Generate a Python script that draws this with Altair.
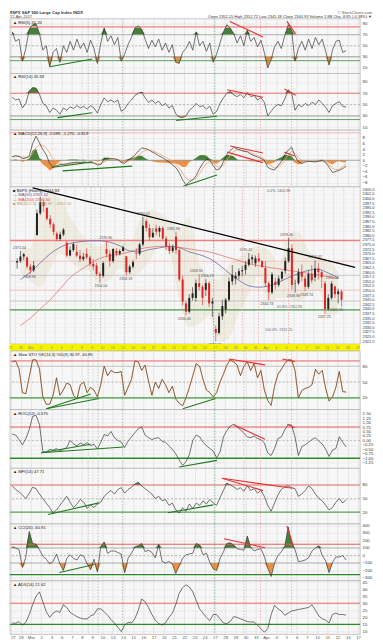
import altair as alt
import pandas as pd

FONT = "Liberation Sans"
DAY_LABELS = ["27", "28", "Mar", "2", "3", "6", "7", "8", "9", "10", "13", "14", "15", "16", "17",
              "20", "21", "22", "23", "24", "27", "28", "29", "30", "31", "Apr", "4", "5", "6", "7",
              "10", "11", "12", "13", "17"]

# ---- hourly-ish price bars (3 per trading day, Feb 27 .. Apr 12 2017) ----
OPEN = [2365.2, 2366.0, 2368.5, 2368.0, 2363.0, 2361.0, 2380.1, 2392.0, 2398.0,
        2395.0, 2389.0, 2386.0, 2381.0, 2378.0, 2380.5, 2376.0, 2369.0, 2372.0,
        2371.0, 2369.0, 2367.0, 2370.0, 2368.0, 2364.5, 2363.5, 2359.0, 2358.0,
        2372.5, 2370.0, 2366.0, 2371.6, 2370.0, 2371.5, 2368.6, 2360.0, 2363.0,
        2370.3, 2370.0, 2375.0, 2387.7, 2384.0, 2379.0, 2383.7, 2382.0, 2384.0,
        2378.2, 2374.0, 2371.5, 2379.3, 2372.0, 2356.0, 2343.0, 2338.5, 2346.0,
        2346.0, 2354.0, 2352.0, 2350.4, 2354.0, 2343.0, 2329.1, 2327.0, 2336.0,
        2339.8, 2345.0, 2355.0, 2356.5, 2358.0, 2360.5, 2361.3, 2364.0, 2367.0,
        2364.8, 2367.5, 2366.0, 2362.3, 2354.0, 2349.0, 2354.8, 2353.0, 2356.5,
        2360.8, 2366.0, 2373.0, 2353.8, 2354.0, 2360.0, 2356.6, 2352.0, 2359.0,
        2357.2, 2362.0, 2360.0, 2353.9, 2340.0, 2346.0, 2352.2, 2348.0, 2349.5]
HIGH = [2367.5, 2371.5, 2370.5, 2368.5, 2364.5, 2366.0, 2394.0, 2401.0, 2399.0,
        2395.0, 2391.0, 2387.0, 2382.0, 2382.0, 2384.0, 2377.0, 2374.0, 2376.0,
        2375.0, 2372.0, 2370.5, 2373.0, 2369.0, 2367.0, 2365.0, 2360.0, 2366.0,
        2376.9, 2372.0, 2373.0, 2373.0, 2372.5, 2374.4, 2368.6, 2364.0, 2366.5,
        2373.0, 2376.0, 2390.0, 2389.0, 2386.0, 2384.0, 2385.7, 2385.0, 2385.0,
        2379.6, 2376.0, 2375.0, 2381.9, 2373.0, 2358.0, 2344.0, 2348.0, 2351.8,
        2356.0, 2358.9, 2353.0, 2356.2, 2355.0, 2346.0, 2331.0, 2338.0, 2344.9,
        2346.0, 2357.0, 2363.8, 2360.0, 2362.0, 2363.4, 2366.0, 2370.4, 2369.5,
        2369.0, 2370.4, 2366.5, 2365.9, 2355.0, 2360.0, 2357.0, 2358.0, 2360.5,
        2368.0, 2378.4, 2375.0, 2356.0, 2362.0, 2364.2, 2358.0, 2361.0, 2363.8,
        2366.4, 2365.0, 2361.0, 2355.2, 2348.0, 2355.0, 2352.7, 2351.0, 2350.5]
LOW = [2361.9, 2365.0, 2366.5, 2362.0, 2359.0, 2360.0, 2380.1, 2391.0, 2393.0,
       2388.0, 2384.0, 2380.0, 2377.0, 2377.0, 2379.5, 2368.0, 2368.5, 2371.0,
       2368.0, 2365.5, 2366.0, 2367.0, 2363.0, 2361.0, 2358.0, 2354.5, 2357.0,
       2368.0, 2363.0, 2365.0, 2368.5, 2369.0, 2371.0, 2358.2, 2359.0, 2362.0,
       2367.0, 2369.0, 2374.0, 2382.0, 2377.2, 2378.5, 2380.0, 2379.0, 2377.6,
       2372.0, 2369.7, 2370.5, 2370.0, 2355.0, 2341.9, 2336.5, 2337.5, 2344.5,
       2344.0, 2350.0, 2342.1, 2347.0, 2341.0, 2335.7, 2322.25, 2326.0, 2334.0,
       2337.6, 2344.0, 2353.0, 2353.3, 2356.0, 2358.0, 2358.6, 2363.0, 2364.5,
       2363.0, 2365.0, 2362.6, 2352.0, 2344.7, 2348.0, 2350.7, 2352.0, 2355.5,
       2359.0, 2365.0, 2350.5, 2348.9, 2353.0, 2355.0, 2349.7, 2351.0, 2354.0,
       2355.0, 2356.0, 2351.5, 2337.25, 2339.0, 2345.0, 2346.0, 2343.0, 2341.2]
CLOSE = [2366.0, 2368.5, 2369.75, 2363.0, 2361.0, 2363.6, 2392.0, 2398.0, 2396.0,
         2389.0, 2386.0, 2381.9, 2378.0, 2380.5, 2383.1, 2369.0, 2372.0, 2375.3,
         2369.0, 2367.0, 2368.4, 2368.0, 2364.5, 2363.0, 2359.0, 2358.0, 2364.9,
         2370.0, 2366.0, 2372.6, 2370.0, 2371.5, 2373.5, 2360.0, 2363.0, 2365.45,
         2370.0, 2375.0, 2385.3, 2384.0, 2379.0, 2381.4, 2382.0, 2384.0, 2378.25,
         2374.0, 2371.5, 2373.5, 2372.0, 2356.0, 2344.0, 2338.5, 2346.0, 2348.45,
         2354.0, 2352.0, 2346.0, 2354.0, 2343.0, 2344.0, 2327.0, 2336.0, 2341.6,
         2345.0, 2355.0, 2358.6, 2358.0, 2360.5, 2361.1, 2364.0, 2367.0, 2368.1,
         2367.5, 2366.0, 2362.7, 2354.0, 2349.0, 2358.8, 2353.0, 2356.5, 2360.2,
         2366.0, 2373.0, 2353.0, 2354.0, 2360.0, 2357.5, 2352.0, 2359.0, 2355.5,
         2362.0, 2360.0, 2357.2, 2340.0, 2346.0, 2353.8, 2348.0, 2349.5, 2344.93]

# ---- indicators (3 readings per day) ----
RSI5 = [75, 58, 62, 22, 45, 80, 88, 90, 72, 42, 50, 12, 38, 45, 20, 50, 38, 58,
        42, 62, 45, 55, 38, 60, 45, 18, 55, 82, 58, 68, 52, 65, 22, 35, 52, 65,
        82, 86, 80, 62, 45, 60, 48, 62, 42, 55, 38, 52, 20, 18, 38, 45, 58, 42,
        75, 50, 58, 40, 55, 20, 35, 55, 75, 88, 82, 72, 55, 68, 50, 78, 58, 65,
        48, 60, 38, 10, 25, 48, 58, 45, 68, 88, 78, 22, 45, 58, 42, 62, 45, 65,
        52, 62, 40, 15, 42, 58, 60, 38, 41.2]
RSI14 = [63, 58, 60, 44, 52, 74, 80, 79, 68, 52, 48, 36, 44, 40, 33, 44, 40, 46,
         43, 48, 44, 47, 42, 48, 44, 35, 50, 62, 55, 58, 54, 58, 38, 42, 52, 58,
         66, 70, 72, 62, 54, 58, 52, 56, 48, 52, 44, 48, 34, 28, 27, 30, 40, 45,
         52, 46, 48, 42, 47, 33, 38, 52, 62, 70, 73, 67, 64, 68, 62, 71, 64, 66,
         58, 62, 54, 30, 38, 46, 50, 48, 60, 76, 70, 40, 50, 46, 52, 48, 54, 50,
         58, 52, 45, 36, 48, 52, 55, 47, 45.6]
MACD = [1.3, 1.6, 1.4, 0.6, 0.8, 1.5, 6.0, 8.6, 6.2, 3.8, 2.0, -1.2, -2.4, -2.0, -1.6,
        -1.5, -1.3, -1.0, -0.8, -0.7, -0.8, -0.6, -0.8, -0.9, -1.0, -1.7, -1.5,
        0.4, 0.8, 0.6, 0.5, 0.2, -0.8, -1.1, 0.0, 0.8, 1.8, 3.3, 4.4, 4.2, 3.8, 3.0,
        2.4, 1.6, 1.0, 0.2, -0.6, -1.6, -2.6, -4.4, -7.0, -8.8, -7.8, -7.0,
        -5.5, -3.0, -1.0, 0.4, 0.0, -2.0, -3.5, -3.0, -0.5, 2.0, 3.5, 4.6,
        4.0, 3.6, 3.2, 3.0, 2.2, 1.6, 1.2, 0.6, 0.0, -2.5, -3.2, -3.5,
        -2.0, -0.5, 2.0, 3.6, 4.7, 1.5, -0.6, -1.2, -0.6, -0.4, -0.5, -0.6,
        -0.3, -0.1, -0.8, -2.5, -4.4, -4.0, -3.6, -3.0, -2.1]
SIGNAL = [1.2, 1.3, 1.4, 1.2, 1.0, 1.0, 2.5, 4.5, 5.5, 5.3, 4.3, 2.5, 0.6, -0.6, -1.2,
          -1.4, -1.4, -1.3, -1.1, -1.0, -0.9, -0.8, -0.8, -0.8, -0.9, -1.2, -1.3,
          -0.6, 0.0, 0.3, 0.4, 0.3, -0.1, -0.5, -0.4, 0.1, 0.7, 1.7, 2.8, 3.5, 3.7, 3.4,
          3.0, 2.4, 1.8, 1.1, 0.4, -0.4, -1.4, -2.8, -4.6, -6.5, -7.2, -7.1,
          -6.4, -4.8, -2.9, -1.2, -0.5, -1.1, -2.2, -2.6, -1.6, 0.0, 1.7, 3.2,
          3.7, 3.7, 3.4, 3.2, 2.7, 2.1, 1.7, 1.1, 0.5, -1.0, -2.1, -2.8,
          -2.5, -1.6, 0.0, 1.8, 3.2, 2.4, 0.9, -0.2, -0.4, -0.4, -0.5, -0.5,
          -0.4, -0.3, -0.5, -1.5, -2.9, -3.4, -3.2, -2.3, -1.3]
STOCH = [88, 90, 75, 30, 28, 60, 92, 92, 75, 22, 8, 8, 25, 58, 25, 35, 48, 45,
         25, 18, 45, 50, 30, 40, 35, 22, 45, 80, 62, 72, 68, 68, 70, 25, 40, 55,
         90, 88, 72, 82, 52, 25, 50, 38, 55, 45, 30, 42, 18, 10, 5, 20, 40, 62,
         85, 80, 55, 35, 30, 22, 30, 50, 65, 82, 92, 88, 82, 62, 80, 88, 72, 85,
         58, 72, 35, 15, 6, 42, 65, 74, 85, 92, 92, 72, 20, 34, 38, 40, 45, 74,
         65, 72, 38, 14, 22, 40, 70, 32, 31]
ROC = [0.35, 0.3, 0.05, -0.25, 0.1, 0.6, 1.35, 1.4, 0.9, -0.62, -0.66, -0.5,
       -0.55, -0.45, -0.6, -0.5, -0.4, 0.0, -0.2, -0.3, -0.15, -0.25, -0.12, -0.3,
       -0.22, -0.48, -0.1, 0.33, 0.25, 0.5, 0.15, 0.0, -0.1, -0.4, -0.05, 0.2,
       0.43, 0.65, 0.75, 0.3, 0.15, 0.05, 0.12, 0.15, -0.05, -0.1, -0.3, -0.5,
       -0.75, -1.1, -1.4, -1.2, -0.8, 0.0, 0.3, 0.2, -0.1, -0.3, -0.45, -0.6,
       -0.97, -0.65, 0.2, 0.55, 0.8, 0.9, 0.75, 0.6, 0.4, 0.2, 0.15, 0.25,
       0.1, 0.05, -0.15, -0.7, -0.85, -0.45, 0.1, 0.2, 0.6, 0.9, 0.85, 0.2,
       -0.85, -0.35, -0.25, -0.1, 0.05, 0.15, -0.05, -0.2, -0.5, -0.9, -0.55, -0.45,
       0.2, -0.1, -0.37]
MFI = [78, 70, 65, 58, 50, 62, 75, 72, 60, 50, 40, 30, 18, 25, 35, 45, 55, 42,
       30, 38, 48, 42, 28, 36, 30, 38, 42, 55, 62, 68, 60, 70, 74, 62, 70, 75,
       82, 86, 78, 72, 66, 60, 50, 55, 45, 48, 35, 40, 25, 18, 30, 22, 38, 28,
       40, 35, 45, 38, 48, 40, 35, 52, 68, 84, 80, 76, 70, 74, 66, 78, 68, 72,
       62, 68, 55, 35, 22, 40, 58, 70, 76, 78, 74, 72, 55, 60, 68, 78, 72, 60,
       50, 45, 35, 25, 30, 42, 50, 40, 47.7]
CCI = [115, 100, 80, -160, -20, 320, 160, 150, 75, -10, -50, -110, -80, 20, -110,
       -200, -40, 10, -40, -60, 10, -10, -110, -190, -50, -220, 120, 180, 30, 60,
       60, 40, 20, -230, -40, 30, 115, 130, 160, 50, 70, 40, -30, 150, -80,
       -100, -80, -110, -240, -140, -40, 10, 20, 30, 160, 140, 10, 30, -90, -180,
       -200, -40, 50, 160, 170, 140, 90, 80, 70, 260, 110, 60, 80, 90, -10,
       -170, -280, -100, 0, 50, 120, 380, 160, 80, -80, -75, -60, -30, 60, 100,
       130, 0, -70, -230, -90, -20, -20, 0, -61]
ADX = [16, 15.8, 17, 14.5, 16.5, 22, 29, 35, 38, 31, 24, 20, 23, 24.5, 23.5,
       29, 27, 23.5, 22, 20.5, 19.5, 18.9, 18.9, 21, 22, 26, 26, 24, 21.5, 18.5,
       16, 13, 10, 14.5, 16.5, 16, 19, 25, 33, 31, 27, 22, 18, 15.6, 14.5,
       16, 20, 23, 29, 37, 41, 43, 41.5, 38, 32, 26, 23, 20, 17.8, 22,
       22, 19, 16, 15.6, 17, 20.5, 20, 19, 18, 17, 16.7, 16.7, 14.5, 12, 9.5,
       12, 22, 28.5, 26, 24.5, 21.5, 23, 24.5, 25, 25.6, 26, 26.5, 27, 28.9, 25,
       21, 19, 18, 16, 22, 23, 22, 22, 21.6]

# ---- daily overlays on price ----
MA50 = [2356, 2360, 2365, 2370, 2373.5, 2375.6, 2376.5, 2377, 2377, 2376.3, 2374.3,
        2371.5, 2371, 2372.3, 2373.2, 2374, 2373.3, 2371, 2369.5, 2367.5, 2364,
        2359.5, 2355.5, 2352.6, 2351.8, 2352.5, 2354.5, 2357, 2359.2, 2361, 2361.5,
        2359.5, 2357]
MA200 = [2331, 2335, 2340, 2345, 2351, 2357, 2361, 2364.5, 2367.5, 2369, 2369.7,
         2371, 2372.6, 2373.5, 2374, 2374, 2373.5, 2372.6, 2371.8, 2371, 2369.5,
         2367.8, 2366.3, 2364.6, 2363.5, 2362.6, 2361.8, 2361, 2360.2, 2359.3,
         2358.5, 2357.5, 2356.5]
BB_UP = [2374, 2373, 2400, 2404, 2400, 2390, 2382, 2376, 2374, 2378, 2378, 2376,
         2388, 2394, 2392, 2388, 2384, 2390, 2365, 2358, 2356, 2364, 2368, 2372,
         2374, 2372, 2365, 2380, 2382, 2372, 2368, 2366, 2360]
BB_LO = [2360, 2355, 2352, 2362, 2370, 2366, 2362, 2360, 2354, 2356, 2362, 2358,
         2360, 2366, 2374, 2370, 2345, 2330, 2332, 2336, 2322, 2324, 2338, 2348,
         2358, 2344, 2346, 2346, 2344, 2348, 2350, 2336, 2338]

NOTE_HI_T = [0.4, 9.1, 12.9, 15.9, 18.2, 19.3, 23.2, 27.3, 30.2, 31.9]
NOTE_HI_P = [2371.5, 2376.9, 2390.0, 2381.9, 2358.9, 2356.2, 2370.4, 2378.4, 2366.4, 2355.2]
NOTE_HI_S = ["2371.54", "2376.86", "2390.01", "2381.93", "2358.90", "2356.19", "2370.42",
             "2378.36", "2366.37", "2355.16"]
NOTE_LO_T = [1.4, 8.6, 11.1, 17.0, 20.1, 25.3, 28.0, 29.3, 31.1, 32.3]
NOTE_LO_P = [2359.0, 2354.5, 2358.2, 2336.5, 2322.25, 2344.7, 2348.9, 2349.7, 2337.25, 2341.2]
NOTE_LO_S = ["2358.96", "2354.54", "2358.18", "2336.46", "2322.25", "2344.73", "2348.96",
             "2349.74", "2337.25", "2341.18"]
FIB_T = [26.5, 27.6, 26.5]
FIB_P = [2404.0, 2341.3, 2328.6]
FIB_S = ["0.0%: 2400.98", "61.8%: 2352.33", "100.0%: 2322.25"]

VLINE_T = [7.6, 8.57, 10.95, 19.94, 22.83, 24.47, 27.5]
VLINE_C = ["#8db08d", "#8db08d", "#8db08d", "#5f9f5f", "#f08a8a", "#f08a8a", "#f08a8a"]

G = "#1f7a1f"
R = "#e83030"
TL_RSI5 = [(3.83, 12, 8.0, 26, G), (21.45, 94, 24.7, 66, R), (27.04, 94, 27.9, 71, R)]
TL_RSI14 = [(4.6, 27, 8.0, 35.5, G), (16.2, 22, 20.2, 29.4, G), (21.2, 76, 24.7, 63, R),
            (26.8, 77.4, 27.9, 66.3, R)]
TL_MACD = [(4.0, -2.6, 8.0, -0.6, G), (5.1, -3.8, 11.9, -2.1, G), (16.9, -9.3, 20.2, -5.3, G),
           (21.5, 5.1, 24.7, 2.6, R), (21.2, 2.9, 24.7, -0.9, R), (26.8, 2.9, 27.8, 1.5, R)]
TL_PRICE = [(1.73, 2405.8, 34.2, 2362.6, "#000000")]
TL_STOCH = [(3.5, -0.6, 7.85, 27.5, G), (3.5, -0.6, 8.65, 18.75, G), (16.85, -0.6, 20.06, 18.75, G),
            (21.35, 93.7, 24.9, 82.5, R), (26.6, 93.7, 27.8, 88.7, R)]
TL_ROC = [(3.0, -0.69, 7.85, -0.22, G), (3.0, -0.69, 11.06, -0.37, G), (16.5, -1.49, 20.2, -1.12, G),
          (21.8, 0.89, 24.9, 0.06, R), (27.1, 0.89, 27.8, 0.71, R)]
TL_MFI = [(3.67, 14.7, 8.65, 40.4, G), (15.4, 18.5, 19.85, 36, G), (20.7, 94.7, 24.7, 67.5, R),
          (20.7, 94.7, 27.6, 72.7, R)]
TL_CCI = [(4.8, -227, 8.2, -120, G), (20.9, 223, 24.9, 103, R), (27.04, 395, 27.7, 116, R)]

# ---------------------------------------------------------------------------
NDAY = len(CLOSE) // 3
T = [i + (k + 0.5) / 3 for i in range(NDAY) for k in range(3)]
df = pd.DataFrame(dict(t=T, o=OPEN, h=HIGH, l=LOW, c=CLOSE, rsi5=RSI5, rsi14=RSI14,
                       macd=MACD, sig=SIGNAL, sto=STOCH, roc=ROC, mfi=MFI, cci=CCI, adx=ADX))
dday = pd.DataFrame(dict(t=[i + 0.5 for i in range(NDAY)], ma50=MA50, ma200=MA200,
                         up=BB_UP, lo=BB_LO))

W = 352
XS = alt.Scale(domain=[-0.05, 34.2], nice=False, zero=False)
GREEN_FILL = "#3c7a2c"
ORANGE_FILL = "#ec8a3a"
LBL = 4.3


def x_main(field="t", bottom=False):
    kw = dict(values=list(range(35)), ticks=False, domain=False, grid=True,
              gridColor="#d4d4d4", gridWidth=0.5, title=None)
    if bottom:
        kw.update(labels=True, labelFontSize=LBL, labelColor="#555", labelFont=FONT,
                  labelPadding=1.5, labelOverlap=False,
                  labelExpr="[" + ",".join("'%s'" % s for s in DAY_LABELS) + "][datum.value]")
    else:
        kw.update(labels=False)
    return alt.X(f"{field}:Q", scale=XS, axis=alt.Axis(**kw))


def x_plain(field="t"):
    return alt.X(f"{field}:Q", scale=XS, axis=None)


def y_main(field, dom, vals, fmt=None, grid_color="#e0e0e0", size=LBL):
    kw = dict(orient="right", values=vals, labelFontSize=size, labelColor="#333", labelFont=FONT,
              ticks=False, domain=False, grid=True, gridColor=grid_color, gridWidth=0.5,
              title=None, labelPadding=2, labelOverlap=False)
    if fmt:
        kw["format"] = fmt
    return alt.Y(f"{field}:Q", scale=alt.Scale(domain=dom, nice=False, zero=False),
                 axis=alt.Axis(**kw))


def y_plain(field, dom):
    return alt.Y(f"{field}:Q", scale=alt.Scale(domain=dom, nice=False, zero=False), axis=None)


def hlines(dom, rows):
    out = []
    for v, c, w, dash in rows:
        kw = dict(color=c, strokeWidth=w)
        if dash:
            kw["strokeDash"] = [2, 2]
        out.append(alt.Chart(pd.DataFrame({"v": [v]})).mark_rule(**kw).encode(y=y_plain("v", dom)))
    return out


def vlines():
    d = pd.DataFrame({"t": VLINE_T, "c": VLINE_C})
    return alt.Chart(d).mark_rule(strokeDash=[1.5, 1.5], strokeWidth=0.6).encode(
        x=x_plain(), color=alt.Color("c:N", scale=None))


def trend(dom, rows, width=1.1):
    d = pd.DataFrame(rows, columns=["t", "v", "t2", "v2", "c"])
    return alt.Chart(d).mark_rule(strokeWidth=width).encode(
        x=x_plain("t"), x2="t2:Q", y=y_plain("v", dom), y2="v2:Q",
        color=alt.Color("c:N", scale=None))


def legend(lines):
    out = []
    for k, (s, col) in enumerate(lines):
        out.append(alt.Chart(pd.DataFrame({"s": [s]})).mark_text(
            align="left", baseline="middle", fontSize=4.2, font=FONT, color=col).encode(
            x=alt.value(3), y=alt.value(4 + 4.6 * k), text="s:N"))
    return out


def fills(field, dom, hi, lo):
    b = alt.Chart(df)
    up = b.transform_calculate(a=f"max(datum.{field}, {hi})", b0=f"{hi}").mark_area(
        color=GREEN_FILL, opacity=0.95).encode(x=x_plain(), y=y_plain("a", dom), y2="b0:Q")
    dn = b.transform_calculate(a=f"min(datum.{field}, {lo})", b0=f"{lo}").mark_area(
        color=ORANGE_FILL, opacity=0.95).encode(x=x_plain(), y=y_plain("a", dom), y2="b0:Q")
    return [up, dn]


def panel(layers, h):
    return alt.layer(*layers).resolve_axis(x="independent", y="independent").properties(
        width=W, height=h)


def osc_panel(field, dom, vals, h, lines, tl, leg, fill=None, fmt=None, bottom=False):
    layers = [alt.Chart(df).mark_line(opacity=0).encode(
        x=x_main(bottom=bottom), y=y_main(field, dom, vals, fmt))]
    if fill:
        layers += fills(field, dom, fill[0], fill[1])
    layers += hlines(dom, lines)
    layers.append(vlines())
    layers.append(alt.Chart(df).mark_line(color="#3a3a3a", strokeWidth=0.7).encode(
        x=x_plain(), y=y_plain(field, dom)))
    if tl:
        layers.append(trend(dom, tl))
    layers += legend([(leg, "#222")])
    return panel(layers, h)


# ---- header ----
header = alt.layer(
    alt.Chart(pd.DataFrame({"s": ["$SPX S&P 500 Large Cap Index  INDX"]})).mark_text(
        align="left", baseline="middle", fontSize=4.2, font=FONT, color="#333", fontWeight="bold").encode(
        x=alt.value(0), y=alt.value(2), text="s:N"),
    alt.Chart(pd.DataFrame({"s": ["12-Apr-2017"]})).mark_text(
        align="left", baseline="middle", fontSize=4, font=FONT, color="#444").encode(
        x=alt.value(0), y=alt.value(6.2), text="s:N"),
    alt.Chart(pd.DataFrame({"s": ["© StockCharts.com"]})).mark_text(
        align="right", baseline="middle", fontSize=4, font=FONT, color="#555").encode(
        x=alt.value(W + 12), y=alt.value(2), text="s:N"),
    alt.Chart(pd.DataFrame({"s": ["Open 2352.15  High 2352.72  Low 2341.18  Close 2344.93  Volume 1.8B  Chg -8.85 (-0.38%) ▼"]})).mark_text(
        align="right", baseline="middle", fontSize=4, font=FONT, color="#333").encode(
        x=alt.value(W + 12), y=alt.value(6.2), text="s:N"),
).properties(width=W, height=8, view=alt.ViewBackground(stroke="transparent", fill="transparent"))

# ---- RSI panels ----
p_rsi5 = osc_panel("rsi5", [0, 99], [10, 30, 50, 70, 90], 55,
                   [(84, "#f3a0a0", 1.8, False), (70, "#999999", 0.7, False),
                    (50, "#999999", 0.6, True), (30, "#777777", 0.7, False),
                    (23, "#5aa05a", 1.0, False)],
                   TL_RSI5, "▲ RSI(5) 41.20", fill=(70, 30))
p_rsi14 = osc_panel("rsi14", [5, 105], [10, 30, 50, 70, 90], 57,
                    [(70, "#e87070", 1.0, False), (50, "#999999", 0.6, True),
                     (30, "#777777", 0.7, False), (23.5, "#5aa05a", 1.0, False)],
                    TL_RSI14, "▲ RSI(14) 45.59", fill=(70, 30))

# ---- MACD ----
MDOM = [-9.5, 10.8]
mb = alt.Chart(df).transform_calculate(hp="max(datum.macd - datum.sig, 0)",
                                       hn="min(datum.macd - datum.sig, 0)", z="0")
p_macd = panel([
    alt.Chart(df).mark_line(opacity=0).encode(
        x=x_main(), y=y_main("macd", MDOM, [-8, -6, -4, -2, 0, 2, 4, 6, 8])),
    mb.mark_area(color=GREEN_FILL, opacity=0.95).encode(x=x_plain(), y=y_plain("hp", MDOM), y2="z:Q"),
    mb.mark_area(color=ORANGE_FILL, opacity=0.95).encode(x=x_plain(), y=y_plain("hn", MDOM), y2="z:Q"),
    *hlines(MDOM, [(9.8, "#f0a0a0", 0.8, False), (0, "#888888", 0.7, False)]),
    vlines(),
    alt.Chart(df).mark_line(color="#f2a266", strokeWidth=0.8).encode(x=x_plain(), y=y_plain("sig", MDOM)),
    alt.Chart(df).mark_line(color="#333333", strokeWidth=0.7).encode(x=x_plain(), y=y_plain("macd", MDOM)),
    trend(MDOM, TL_MACD),
    *legend([("▲ MACD(12,26,9) -2.089, -1.270, -0.819", "#222")]),
], 57)

# ---- Price ----
PDOM = [2321, 2406.4]
PVALS = [2322.5 + 2.5 * k for k in range(34)]
updown = alt.condition("datum.c >= datum.o", alt.value("#222222"), alt.value("#e02424"))
pb = alt.Chart(df)
note_hi = pd.DataFrame({"t": NOTE_HI_T, "p": NOTE_HI_P, "s": NOTE_HI_S})
note_lo = pd.DataFrame({"t": NOTE_LO_T, "p": NOTE_LO_P, "s": NOTE_LO_S})
fib = pd.DataFrame({"t": FIB_T, "p": FIB_P, "s": FIB_S})
p_price = panel([
    pb.mark_line(opacity=0).encode(x=x_main(), y=y_main("c", PDOM, PVALS, ".1f", "#ececec", 3.9)),
    alt.Chart(dday).mark_area(color="#dccfae", opacity=0.28, interpolate="monotone").encode(
        x=x_plain(), y=y_plain("up", PDOM), y2="lo:Q"),
    *hlines(PDOM, [(2377.2, "#f08080", 1.4, False), (2365.9, "#f4b4b4", 0.8, False),
                   (2358.3, "#bbbbbb", 0.8, False), (2350.2, "#f4b4b4", 0.8, False),
                   (2344.3, "#bbbbbb", 0.8, False), (2339.5, "#4a9a4a", 1.4, False)]),
    vlines(),
    alt.Chart(dday).mark_line(color="#e86060", strokeWidth=0.7, interpolate="monotone").encode(
        x=x_plain(), y=y_plain("ma200", PDOM)),
    alt.Chart(dday).mark_line(color="#6a6aa6", strokeWidth=0.8, interpolate="monotone").encode(
        x=x_plain(), y=y_plain("ma50", PDOM)),
    pb.mark_rule(strokeWidth=0.6).encode(
        x=x_plain(), y=y_plain("l", PDOM), y2="h:Q", color=updown),
    pb.mark_bar(size=2.0).encode(x=x_plain(), y=y_plain("o", PDOM), y2="c:Q", color=updown),
    trend(PDOM, TL_PRICE, 1.3),
    alt.Chart(note_hi).mark_text(fontSize=3.6, font=FONT, color="#555", dy=-3).encode(
        x=x_plain(), y=y_plain("p", PDOM), text="s:N"),
    alt.Chart(note_lo).mark_text(fontSize=3.6, font=FONT, color="#555", dy=3.5).encode(
        x=x_plain(), y=y_plain("p", PDOM), text="s:N"),
    alt.Chart(fib).mark_text(fontSize=3.6, font=FONT, color="#666").encode(
        x=x_plain(), y=y_plain("p", PDOM), text="s:N"),
    *legend([("■ $SPX (Hourly) 2344.93", "#222"), ("— MA(50) 2359.12", "#5a5a9a"),
             ("— MA(200) 2356.50", "#d84848"), ("■ BB(20,2.0) 2360.87 - 2337.52", "#b8a070")]),
], 158)

# ---- yellow date band ----
band = alt.Chart(pd.DataFrame({"d": list(range(35)), "lab": DAY_LABELS})).mark_text(
    fontSize=3.4, font=FONT, color="#888").encode(
    x=alt.X("d:Q", scale=XS, axis=None), y=alt.value(4), text="lab:N").properties(
    width=W, height=7, view=alt.ViewBackground(fill="#f4f200", stroke="transparent"))

# ---- Stochastic ----
SDOM = [-2, 109]
p_sto = panel([
    alt.Chart(df).mark_line(opacity=0).encode(x=x_main(), y=y_main("sto", SDOM, [20, 50, 80])),
    *hlines(SDOM, [(90, "#f3a0a0", 1.8, False), (80, "#aaaaaa", 0.6, False),
                   (50, "#999999", 0.6, True), (20, "#3f9a3f", 1.2, False)]),
    vlines(),
    alt.Chart(df).mark_line(color="#ee9550", strokeWidth=0.9).encode(x=x_plain(), y=y_plain("sto", SDOM)),
    alt.Chart(df).mark_line(color="#2a2a2a", strokeWidth=0.5).encode(x=x_plain(), y=y_plain("sto", SDOM)),
    trend(SDOM, TL_STOCH),
    *legend([("▲ Slow STO %K(14,3) %D(3) 30.97, 40.85", "#222")]),
], 59)

p_roc = osc_panel("roc", [-1.56, 1.73], [-1.25 + 0.25 * k for k in range(12)], 59,
                  [(0.75, "#e85a5a", 1.0, False), (0, "#999999", 0.6, True),
                   (-1.0, "#2a8a2a", 1.3, False)],
                  TL_ROC, "▲ ROC(12) -0.375", fmt=".2f")
p_mfi = osc_panel("mfi", [-6, 117], [20, 50, 80], 56,
                  [(80, "#e86a6a", 1.0, False), (50, "#999999", 0.6, True),
                   (20, "#5aa05a", 1.2, False)],
                  TL_MFI, "▲ MFI(14) 47.71", fill=(80, 20))
p_cci = osc_panel("cci", [-335, 421], [-300, -200, -100, 0, 100, 200, 300, 400], 57,
                  [(150, "#e85a5a", 1.0, False), (100, "#999999", 0.7, False),
                   (0, "#999999", 0.6, True), (-100, "#999999", 0.7, False),
                   (-255, "#2a8a2a", 1.3, False)],
                  TL_CCI, "▲ CCI(20) -60.91", fill=(100, -100))
p_adx = osc_panel("adx", [8, 46], [10, 15, 20, 25, 30, 35, 40, 45], 54,
                  [(30, "#e86a6a", 1.0, False), (15, "#2a8a2a", 1.3, False)],
                  None, "▲ ADX(14) 21.62", bottom=True)

chart = alt.vconcat(header, p_rsi5, p_rsi14, p_macd, p_price, band, p_sto, p_roc, p_mfi,
                    p_cci, p_adx, spacing=0, bounds="flush").properties(
    padding={"left": 0, "top": 0, "right": 0, "bottom": 0}, background="#ffffff"
).configure_view(stroke="#a6a6a6", strokeWidth=0.6, fill="#f7f7f7")

chart.save("out.html", embed_options={"renderer": "svg", "actions": False})
